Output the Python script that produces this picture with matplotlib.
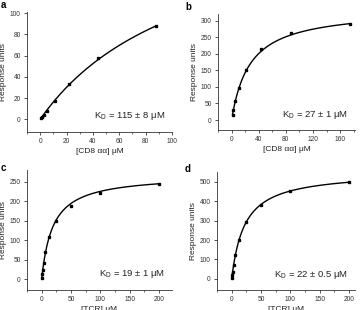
import numpy as np
import matplotlib
matplotlib.use("Agg")
import matplotlib.pyplot as plt
from matplotlib.ticker import AutoMinorLocator, MultipleLocator

plt.rcParams['font.family'] = ['Liberation Sans', 'DejaVu Sans']

# Panel a: [CD8 aa] vs response
a_x = [0.7, 1.4, 2.75, 5.5, 11, 22, 44, 88]
a_y = [1, 2, 4, 8, 17, 33, 58, 88]
a_kd, a_rmax = 115, 203
# Panel b
b_x = [1.4, 2.75, 5.5, 11, 22, 44, 88, 175]
b_y = [15, 30, 57, 97, 152, 213, 262, 291]
b_kd, b_rmax = 27, 336
# Panel c: [TCR]
c_x = [0.39, 0.78, 1.56, 3.125, 6.25, 12.5, 25, 50, 100, 200]
c_y = [4, 12, 24, 42, 70, 107, 150, 188, 220, 245]
c_kd, c_rmax = 19, 268
# Panel d
d_x = [0.39, 0.78, 1.56, 3.125, 6.25, 12.5, 25, 50, 100, 200]
d_y = [5, 20, 38, 70, 125, 200, 292, 380, 452, 497]
d_kd, d_rmax = 22, 552

panels = [
    dict(letter='a', x=a_x, y=a_y, kd=a_kd, rmax=a_rmax, xlim=(-10, 100), ylim=(-12, 101),
         xmaj=20, ymaj=20, xlabel='[CD8 \u03b1\u03b1] \u03bcM', kdtxt='115 \u00b1 8 \u03bcM',
         rect=[27, 12, 172, 132], lpos=(1, 5)),
    dict(letter='b', x=b_x, y=b_y, kd=b_kd, rmax=b_rmax, xlim=(-20, 182), ylim=(-30, 320),
         xmaj=40, ymaj=50, xlabel='[CD8 \u03b1\u03b1] \u03bcM', kdtxt='27 \u00b1 1 \u03bcM',
         rect=[218, 14, 355, 130], lpos=(185, 7)),
    dict(letter='c', x=c_x, y=c_y, kd=c_kd, rmax=c_rmax, xlim=(-25, 222), ylim=(-28, 280),
         xmaj=50, ymaj=50, xlabel='[TCR] \u03bcM', kdtxt='19 \u00b1 1 \u03bcM',
         rect=[27, 170, 172, 290], lpos=(1, 168)),
    dict(letter='d', x=d_x, y=d_y, kd=d_kd, rmax=d_rmax, xlim=(-25, 210), ylim=(-57, 550),
         xmaj=50, ymaj=100, xlabel='[TCR] \u03bcM', kdtxt='22 \u00b1 0.5 \u03bcM',
         rect=[217, 172, 355, 290], lpos=(185, 169)),
]

W, H = 364, 310
fig = plt.figure(figsize=(W / 100, H / 100), dpi=100)

for p in panels:
    l, t, r, b = p['rect']
    ax = fig.add_axes([l / W, (H - b) / H, (r - l) / W, (b - t) / H])
    xs = np.linspace(min(p['x']), max(p['x']), 300)
    ax.plot(xs, p['rmax'] * xs / (p['kd'] + xs), color='black', lw=1.0)
    ax.plot(p['x'], p['y'], 's', color='black', ms=1.8)
    ax.set_xlim(*p['xlim'])
    ax.set_ylim(*p['ylim'])
    ax.xaxis.set_major_locator(MultipleLocator(p['xmaj']))
    ax.xaxis.set_minor_locator(AutoMinorLocator(2))
    ax.yaxis.set_major_locator(MultipleLocator(p['ymaj']))
    lo, hi = p['xlim']
    ax.set_xticks([v for v in ax.get_xticks() if lo <= v <= hi])
    ylo, yhi = p['ylim']
    ax.set_yticks([v for v in ax.get_yticks() if ylo <= v <= yhi])
    for s in ['top', 'right']:
        ax.spines[s].set_visible(False)
    for s in ['left', 'bottom']:
        ax.spines[s].set_linewidth(0.6)
        ax.spines[s].set_color('#333333')
    ax.tick_params(which='major', length=2.5, width=0.6, labelsize=4.8, pad=2, colors='#333333')
    ax.tick_params(which='minor', length=1.5, width=0.5, colors='#333333')
    ax.set_xlabel(p['xlabel'], fontsize=6, labelpad=2, color='#222222')
    ax.set_ylabel('Response units', fontsize=6, labelpad=2, color='#222222')
    ax.text(0.95, 0.08, 'K$_\\mathregular{D}$ = ' + p['kdtxt'], transform=ax.transAxes,
            ha='right', va='bottom', fontsize=6.8, color='#222222')
    lx, ly = p['lpos']
    fig.text(lx / W, 1 - ly / H, p['letter'], fontsize=7, fontweight='bold',
             va='center', ha='left')

fig.savefig('out.png', dpi=100)
